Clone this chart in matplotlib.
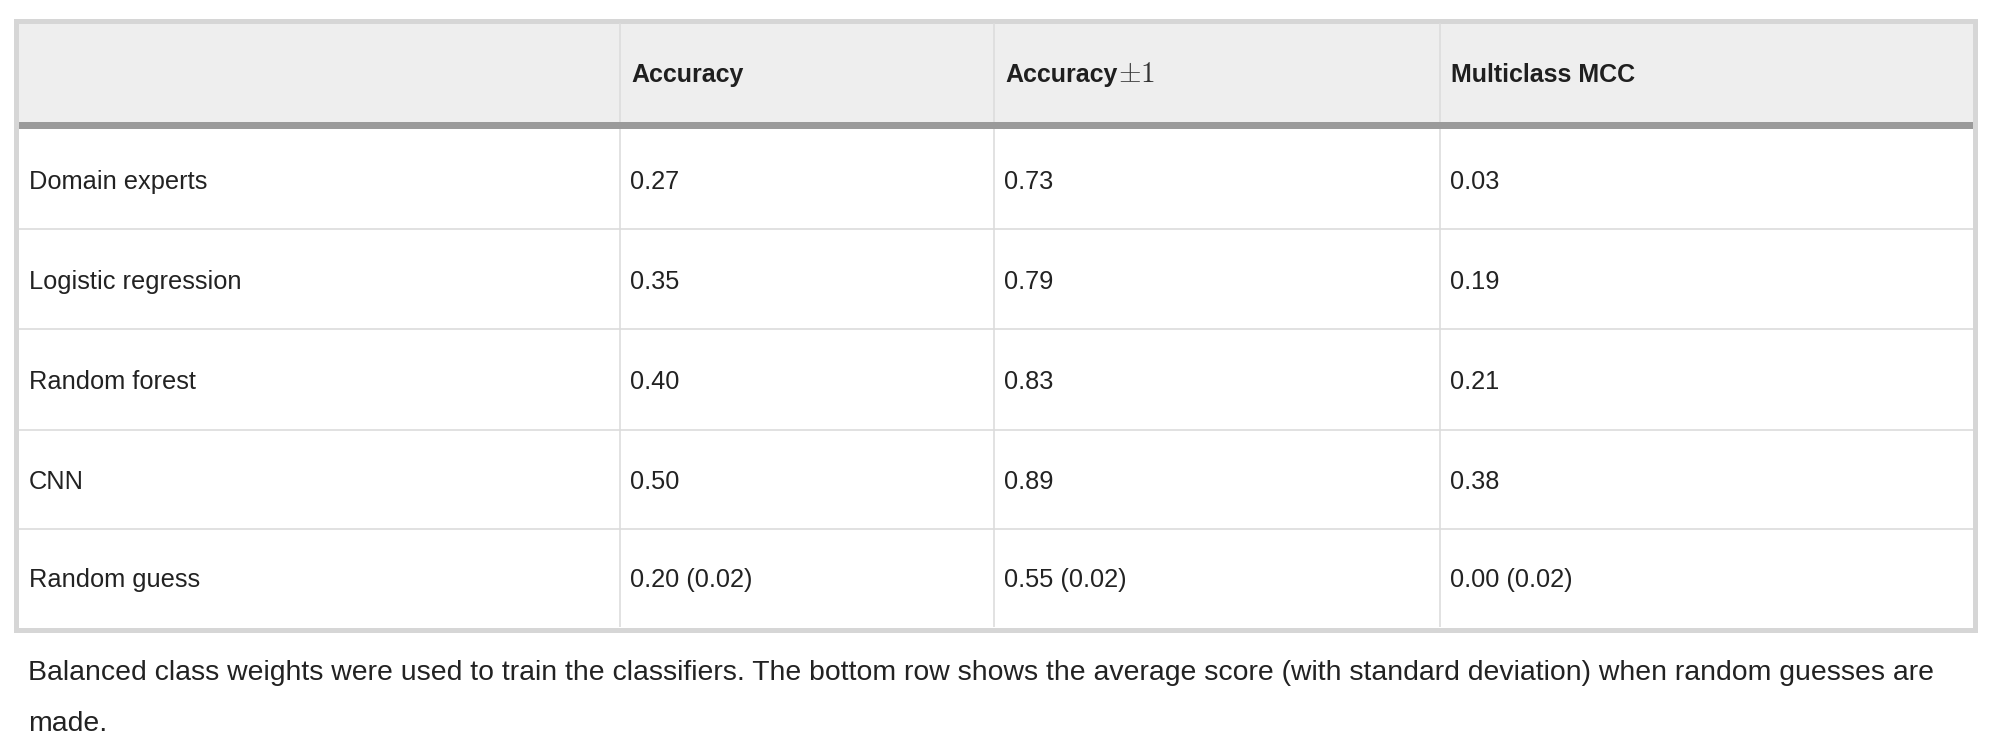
import matplotlib
matplotlib.use("Agg")
import matplotlib.pyplot as plt
from matplotlib.patches import Rectangle

plt.rcParams['font.family'] = ['Liberation Sans', 'DejaVu Sans']
plt.rcParams['mathtext.fontset'] = 'cm'

# table content
columns = ["", "Accuracy", "Accuracy", "Multiclass MCC"]
models = ["Domain experts", "Logistic regression", "Random forest", "CNN", "Random guess"]
accuracy = ["0.27", "0.35", "0.40", "0.50", "0.20 (0.02)"]
accuracy_pm1 = ["0.73", "0.79", "0.83", "0.89", "0.55 (0.02)"]
mcc = ["0.03", "0.19", "0.21", "0.38", "0.00 (0.02)"]
caption = ["Balanced class weights were used to train the classifiers. The bottom row shows the average score (with standard deviation) when random guesses are",
           "made."]

# layout in pixels (figure is 1999 x 753)
W, H = 1999, 753
left, right, top, bottom = 19, 1973, 23, 627
col_edges = [left, 620, 994, 1440, right]
header_bottom = 122
thick = 7
row_edges = [header_bottom + thick, 229, 329, 430, 529, bottom]
text_pad = 10
fs = 18
body_fs = 18.3
px = 0.72  # points per pixel at dpi 100

fig = plt.figure(figsize=(W / 100, H / 100), dpi=100)
ax = fig.add_axes([0, 0, 1, 1])
ax.set_xlim(0, W)
ax.set_ylim(H, 0)
ax.axis('off')
renderer = fig.canvas.get_renderer()

# header background and the thick rule under it
ax.add_patch(Rectangle((left, top), right - left, header_bottom - top, color='#eeeeee', lw=0))
ax.add_patch(Rectangle((left, header_bottom), right - left, thick, color='#9a9a9a', lw=0))

# row separators
for y in row_edges[1:-1]:
    ax.plot([left, right], [y, y], color='#e1e1e1', lw=2 * px, solid_capstyle='butt')

# column separators
for x in col_edges[1:-1]:
    ax.plot([x, x], [top, header_bottom], color='#dcdcdc', lw=1.6 * px, solid_capstyle='butt')
    ax.plot([x, x], [header_bottom + thick, bottom], color='#dcdcdc', lw=1.6 * px, solid_capstyle='butt')

# outer border
ax.add_patch(Rectangle((left - 2.5, top - 2.5), right - left + 5, bottom - top + 5,
                       fill=False, edgecolor='#d6d6d6', lw=5 * px))

# header text
header_mid = (top + header_bottom) / 2
for j, name in enumerate(columns):
    if name:
        t = ax.text(col_edges[j] + text_pad + 1, header_mid + 9, name, fontsize=fs,
                    fontweight='bold', color='#1f1f1f', va='baseline', ha='left')
        if j == 2:
            # the +-1 is set in a math font, regular weight
            w = t.get_window_extent(renderer).width
            ax.text(col_edges[j] + text_pad + 1 + w + 1, header_mid + 9, r"$\pm1$",
                    fontsize=fs + 3, color='#333333', va='baseline', ha='left')

# body text
cells = list(zip(models, accuracy, accuracy_pm1, mcc))
for i, row in enumerate(cells):
    mid = (row_edges[i] + row_edges[i + 1]) / 2
    for j, val in enumerate(row):
        ax.text(col_edges[j] + text_pad, mid + 9.5, val, fontsize=body_fs,
                color='#222222', va='baseline', ha='left')

# caption below the table, sized so the first line spans the same width
cap_x, cap_right = 28, 1932
probe = ax.text(cap_x, 680, caption[0], fontsize=fs, va='baseline', ha='left')
cap_fs = fs * (cap_right - cap_x) / probe.get_window_extent(renderer).width
probe.remove()
for k, line in enumerate(caption):
    ax.text(cap_x, 680 + k * 51, line, fontsize=cap_fs, color='#222222', va='baseline', ha='left')

fig.savefig("out.png", dpi=100)
